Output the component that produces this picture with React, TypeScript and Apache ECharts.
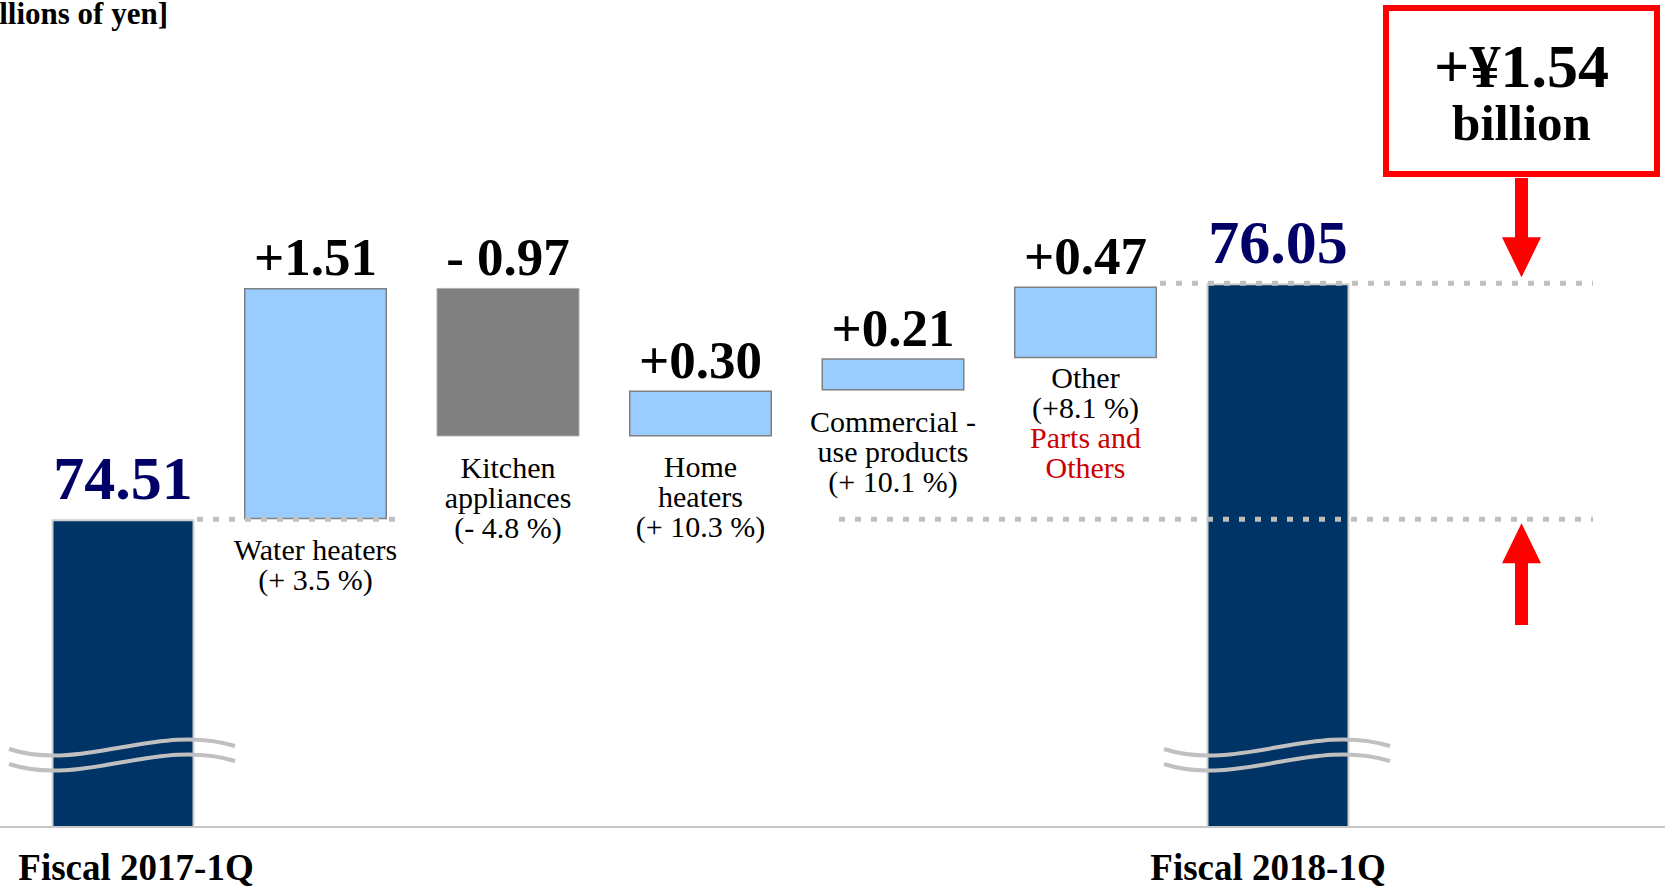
import React, { useEffect, useRef } from "react";
import * as echarts from "echarts";

const categories = [
  "Fiscal 2017-1Q",
  "Water heaters",
  "Kitchen appliances",
  "Home heaters",
  "Commercial-use products",
  "Other",
  "Fiscal 2018-1Q",
];
const totals: (number | null)[] = [74.51, null, null, null, null, null, 76.05];
const deltas: (number | null)[] = [null, 1.51, -0.97, 0.3, 0.21, 0.47, null];
const deltaLabels = ["", "+1.51", "- 0.97", "+0.30", "+0.21", "+0.47", ""];
const segmentNames = ["", "Water heaters", "Kitchen\nappliances", "Home\nheaters", "Commercial -\nuse products", "Other", ""];
const growthLabels = ["", "(+ 3.5 %)", "(- 4.8 %)", "(+ 10.3 %)", "(+ 10.1 %)", "(+8.1 %)", ""];
const segmentNotes = ["", "", "", "", "", "Parts and\nOthers", ""];
const totalChangeLines = ["+¥1.54", "billion"];
const unitLabel = "[Billions of yen]";

const FONT = '"Liberation Serif", "Times New Roman", Times, serif';

export default function App() {
  const ref = useRef<HTMLDivElement>(null);

  useEffect(() => {
    const el = ref.current!;
    const chart = echarts.init(el, null, { renderer: "svg" });

    const bases: any[] = [];
    const heights: any[] = [];
    const labelGap = [0, 15, 16, 15, 16, 4, 0];
    let running = totals[0] as number;
    categories.forEach((_, i) => {
      const d = deltas[i];
      if (d == null) {
        bases.push("-");
        heights.push("-");
        return;
      }
      let base: number;
      if (d >= 0) {
        base = running;
        running += d;
      } else {
        running += d;
        base = running;
      }
      bases.push({ value: +base.toFixed(2), label: { distance: labelGap[i] } });
      heights.push({
        value: Math.abs(d),
        itemStyle:
          d >= 0
            ? { color: "#99CCFF", borderColor: "#808080", borderWidth: 1.5 }
            : { color: "#808080", borderColor: "#b0b0b0", borderWidth: 1 },
      });
    });

    chart.setOption({
      animation: false,
      grid: { left: 26.75, width: 1347.5, top: 0, height: 827, outerBoundsMode: "none", containLabel: false },
      xAxis: {
        type: "category",
        data: categories.map((c, i) =>
          i === 0
            ? { value: c, textStyle: { padding: [0, 0, 0, 26] } }
            : i === categories.length - 1
            ? { value: c, textStyle: { padding: [0, 20, 0, 0] } }
            : c
        ),
        axisLine: { show: false },
        axisTick: { show: false },
        splitLine: { show: false },
        axisLabel: {
          interval: 0,
          margin: 22,
          fontFamily: FONT,
          fontSize: 37,
          fontWeight: "bold",
          lineHeight: 37,
          color: "#000",
          formatter: (v: string, i: number) => (totals[i] != null ? v : ""),
        },
      },
      yAxis: { type: "value", min: 72.5, max: 77.9, show: false },
      series: [
        {
          name: "base",
          type: "bar",
          stack: "w",
          barWidth: 143,
          silent: true,
          itemStyle: { color: "rgba(0,0,0,0)" },
          data: bases,
          label: {
            show: true,
            position: "insideTop",
            formatter: (p: any) => {
              const i = p.dataIndex;
              let s = `{n|${segmentNames[i]}}\n{n|${growthLabels[i]}}`;
              if (segmentNotes[i]) s += `\n{r|${segmentNotes[i]}}`;
              return s;
            },
            rich: {
              n: { fontFamily: FONT, fontSize: 30, lineHeight: 30, color: "#000" },
              r: { fontFamily: FONT, fontSize: 30, lineHeight: 30, color: "#CC0000" },
            },
          },
        },
        {
          name: "change",
          type: "bar",
          stack: "w",
          barWidth: 143,
          data: heights,
          label: {
            show: true,
            position: "top",
            distance: 4,
            fontFamily: FONT,
            fontSize: 53,
            lineHeight: 53,
            fontWeight: "bold",
            color: "#000",
            formatter: (p: any) => deltaLabels[p.dataIndex],
          },
        },
        {
          name: "total",
          type: "bar",
          stack: "w",
          barWidth: 143,
          data: totals.map((v) => (v == null ? "-" : v)),
          itemStyle: { color: "#003366", borderColor: "#d0d0d0", borderWidth: 2 },
          label: {
            show: true,
            position: "top",
            distance: 10,
            fontFamily: FONT,
            fontSize: 62,
            lineHeight: 62,
            fontWeight: "bold",
            color: "#000066",
            formatter: (p: any) => (p.value as number).toFixed(2),
          },
        },
      ],
    });

    const px = (i: number) => chart.convertToPixel({ xAxisIndex: 0 }, i) as number;
    const py = (v: number) => chart.convertToPixel({ yAxisIndex: 0 }, v) as number;
    const yStart = py(totals[0] as number);
    const yEnd = py(totals[6] as number);
    const yBase = py(72.5);
    const x0 = px(0);
    const x1 = px(1);
    const x6 = px(6);
    const ax = 1521.5;

    const dotted = (xa: number, xb: number, y: number) => ({
      type: "line",
      shape: { x1: xa, y1: y, x2: xb, y2: y },
      style: { stroke: "#c0c0c0", lineWidth: 5, lineDash: [6, 10] },
      z: 10,
    });
    const wave = (cx: number, dy: number) => ({
      type: "bezierCurve",
      shape: {
        x1: cx - 114,
        y1: yBase - 78 + dy,
        cpx1: cx - 40,
        cpy1: yBase - 54 + dy,
        cpx2: cx + 35,
        cpy2: yBase - 105 + dy,
        x2: cx + 112,
        y2: yBase - 81 + dy,
      },
      style: { stroke: "#c0c0c0", lineWidth: 4, fill: null },
      z: 10,
    });

    chart.setOption({
      graphic: [
        {
          type: "line",
          shape: { x1: 0, y1: yBase, x2: 1665, y2: yBase },
          style: { stroke: "#c8c8c8", lineWidth: 2 },
          z: 9,
        },
        dotted(x0 + 74, x1 + 85, yStart),
        dotted(839, 1593, yStart),
        dotted(1160, 1593, yEnd),
        wave(x0, 0),
        wave(x0, 15),
        wave(x6, 0),
        wave(x6, 15),
        // down arrow
        { type: "rect", shape: { x: ax - 6.5, y: 178, width: 13, height: yEnd - 45 - 178 }, style: { fill: "#ff0000" } },
        {
          type: "polygon",
          shape: { points: [[ax - 19.5, yEnd - 46], [ax + 19.5, yEnd - 46], [ax, yEnd - 6]] },
          style: { fill: "#ff0000" },
        },
        // up arrow
        {
          type: "polygon",
          shape: { points: [[ax, yStart + 4], [ax - 19.5, yStart + 44], [ax + 19.5, yStart + 44]] },
          style: { fill: "#ff0000" },
        },
        { type: "rect", shape: { x: ax - 6.5, y: yStart + 43, width: 13, height: 625 - yStart - 43 }, style: { fill: "#ff0000" } },
        // red box
        {
          type: "rect",
          shape: { x: 1386, y: 8, width: 271, height: 166 },
          style: { fill: "#fff", stroke: "#ff0000", lineWidth: 6 },
        },
        {
          type: "text",
          style: {
            text: `{a|${totalChangeLines[0]}}\n{b|${totalChangeLines[1]}}`,
            x: ax,
            y: 92.6,
            align: "center",
            verticalAlign: "middle",
            fill: "#000",
            rich: {
              a: { fontFamily: FONT, fontSize: 62, fontWeight: "bold", lineHeight: 60, fill: "#000" },
              b: { fontFamily: FONT, fontSize: 51, fontWeight: "bold", lineHeight: 54, fill: "#000" },
            },
          },
        },
        {
          type: "text",
          style: {
            text: unitLabel,
            x: 168,
            y: 13,
            align: "right",
            verticalAlign: "middle",
            fontFamily: FONT,
            fontSize: 31,
            fontWeight: "bold",
            fill: "#000",
          },
        },
      ],
    });

    return () => chart.dispose();
  }, []);

  return (
    <div
      ref={ref}
      style={{ position: "absolute", left: 0, top: 0, width: 1665, height: 888, background: "#fff" }}
    />
  );
}
